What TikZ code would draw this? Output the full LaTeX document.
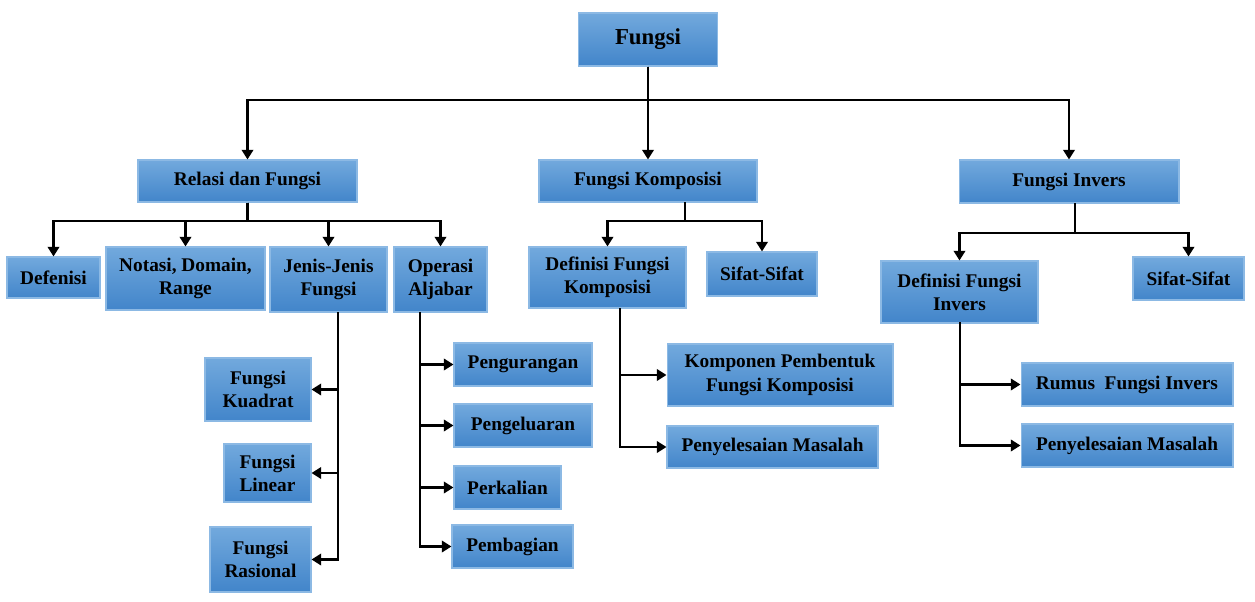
\documentclass[tikz,border=0pt]{standalone}
\usepackage{fontspec}
\setmainfont{Liberation Serif}
\usetikzlibrary{arrows.meta}
\definecolor{boxtop}{RGB}{114,169,221}
\definecolor{boxbot}{RGB}{66,133,202}
\definecolor{boxline}{RGB}{140,185,228}
\tikzstyle{bag} = [draw=boxline, line width=0.6pt, top color=boxtop, bottom color=boxbot, align=center, inner sep=2pt, font=\bfseries\fontsize{11}{13.2}\selectfont]
\tikzstyle{line} = [line width=1.4pt, ->]

\begin{document}
\begin{tikzpicture}[x=0.02cm, y=-0.02cm, >={Triangle[length=5.5pt,width=6.5pt]}]
	  \useasboundingbox (0,0) rectangle (1255,602);

	  \node (fungsi) at (648,39.5) [bag, minimum width=2.78cm, minimum height=1.06cm, font=\bfseries\fontsize{13}{15}\selectfont] {Fungsi};

	  \node (relasi) at (247.5,181) [bag, minimum width=4.38cm, minimum height=0.84cm] {Relasi dan Fungsi};
	  \node (komposisi) at (648,181) [bag, minimum width=4.36cm, minimum height=0.84cm] {Fungsi Komposisi};
	  \node (invers) at (1069,181.5) [bag, minimum width=4.40cm, minimum height=0.86cm] {Fungsi Invers};

	  \node (defenisi) at (53.5,277.5) [bag, minimum width=1.86cm, minimum height=0.82cm] {Defenisi};
	  \node (notasi) at (185.5,278.5) [bag, minimum width=3.18cm, minimum height=1.26cm] {Notasi, Domain,\\Range};
	  \node (jenis) at (328.5,279.5) [bag, minimum width=2.34cm, minimum height=1.30cm] {Jenis-Jenis\\Fungsi};
	  \node (operasi) at (440.5,279.5) [bag, minimum width=1.86cm, minimum height=1.30cm] {Operasi\\Aljabar};

	  \node (kuadrat) at (258,389.5) [bag, minimum width=2.12cm, minimum height=1.26cm] {Fungsi\\Kuadrat};
	  \node (linear) at (267.5,473) [bag, minimum width=1.74cm, minimum height=1.16cm] {Fungsi\\Linear};
	  \node (rasional) at (260.5,559.5) [bag, minimum width=2.02cm, minimum height=1.30cm] {Fungsi\\Rasional};

	  \node (kurang) at (523,364.5) [bag, minimum width=2.76cm, minimum height=0.86cm] {Pengurangan};
	  \node (keluar) at (523,425.5) [bag, minimum width=2.76cm, minimum height=0.86cm] {Pengeluaran};
	  \node (kali) at (507.5,487.5) [bag, minimum width=2.14cm, minimum height=0.86cm] {Perkalian};
	  \node (bagi) at (512.5,546.5) [bag, minimum width=2.42cm, minimum height=0.86cm] {Pembagian};

	  \node (defkomp) at (607.5,277.5) [bag, minimum width=3.14cm, minimum height=1.22cm] {Definisi Fungsi\\Komposisi};
	  \node (sifatkomp) at (762,274) [bag, minimum width=2.20cm, minimum height=0.88cm] {Sifat-Sifat};
	  \node (komponen) at (780,375) [bag, minimum width=4.52cm, minimum height=1.24cm] {Komponen Pembentuk\\Fungsi Komposisi};
	  \node (selesaikomp) at (772.5,447) [bag, minimum width=4.22cm, minimum height=0.84cm] {Penyelesaian Masalah};

	  \node (definv) at (959.5,292) [bag, minimum width=3.14cm, minimum height=1.24cm] {Definisi Fungsi\\Invers};
	  \node (sifatinv) at (1188.5,278.5) [bag, minimum width=2.22cm, minimum height=0.86cm] {Sifat-Sifat};
	  \node (rumus) at (1127,384.5) [bag, minimum width=4.24cm, minimum height=0.86cm] {Rumus\ \ Fungsi Invers};
	  \node (selesaiinv) at (1127,445.5) [bag, minimum width=4.24cm, minimum height=0.86cm] {Penyelesaian Masalah};

	  % bus points
	  \coordinate (h0) at (648,100);
	  \coordinate (h1) at (247.5,221);
	  \coordinate (j0) at (338,312);
	  \coordinate (o0) at (420,312);
	  \coordinate (k0) at (685,202);
	  \coordinate (k1) at (685,221);
	  \coordinate (d0) at (620,308);
	  \coordinate (i0) at (1075,203);
	  \coordinate (i1) at (1075,233);
	  \coordinate (v0) at (960,322);

	  \draw [line] (fungsi) -- (h0) -| (relasi);
	  \draw [line] (fungsi) -- (komposisi);
	  \draw [line] (fungsi) -- (h0) -| (invers);

	  \draw [line] (relasi) -- (h1) -| (defenisi);
	  \draw [line] (relasi) -- (h1) -| (notasi);
	  \draw [line] (relasi) -- (h1) -| (jenis);
	  \draw [line] (relasi) -- (h1) -| (operasi);

	  \draw [line] (j0) |- (kuadrat);
	  \draw [line] (j0) |- (linear);
	  \draw [line] (j0) |- (rasional);

	  \draw [line] (o0) |- (kurang);
	  \draw [line] (o0) |- (keluar);
	  \draw [line] (o0) |- (kali);
	  \draw [line] (o0) |- (bagi);

	  \draw [line] (k0) -- (k1) -| (defkomp);
	  \draw [line] (k0) -- (k1) -| (sifatkomp);
	  \draw [line] (d0) |- (komponen);
	  \draw [line] (d0) |- (selesaikomp);

	  \draw [line] (i0) -- (i1) -| (definv);
	  \draw [line] (i0) -- (i1) -| (sifatinv);
	  \draw [line] (v0) |- (rumus);
	  \draw [line] (v0) |- (selesaiinv);
	\end{tikzpicture}
\end{document}
